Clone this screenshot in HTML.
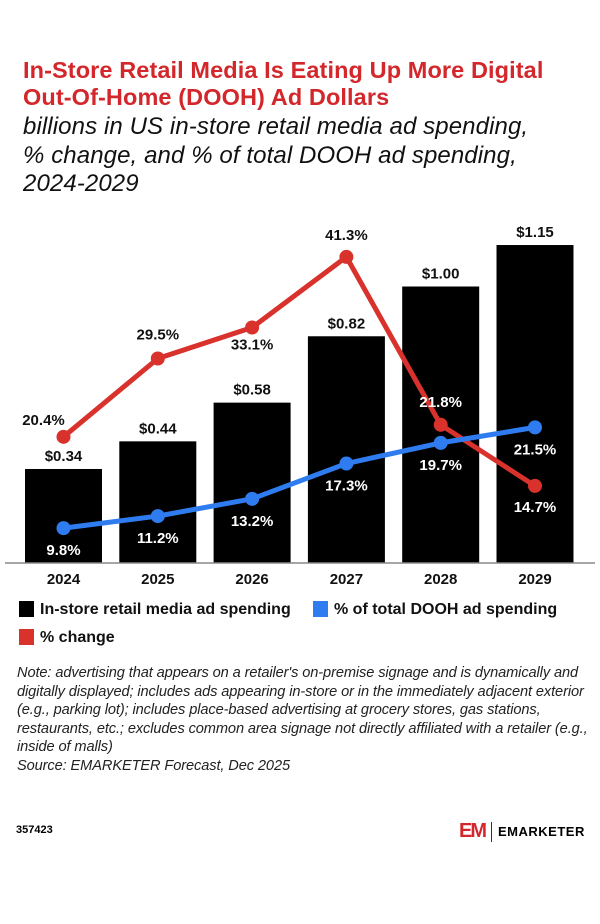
<!DOCTYPE html>
<html><head><meta charset="utf-8"><style>
body{margin:0;width:600px;height:924px;background:#fff;font-family:"Liberation Sans",sans-serif;position:relative;overflow:hidden}
.t{position:absolute;left:23px;top:57px;color:#d3272b;font-weight:bold;font-size:23.5px;line-height:27px;letter-spacing:0.1px;white-space:nowrap}
.s{position:absolute;left:23px;top:113px;font-style:italic;font-size:24px;line-height:28.5px;color:#111;letter-spacing:0.1px;white-space:nowrap}
.n{position:absolute;left:17px;top:664px;font-style:italic;font-size:14.6px;line-height:18.6px;color:#222;white-space:nowrap;letter-spacing:-0.1px}
</style></head><body>
<div class="t">In-Store Retail Media Is Eating Up More Digital<br>Out-Of-Home (DOOH) Ad Dollars</div>
<div class="s">billions in US in-store retail media ad spending,<br>% change, and % of total DOOH ad spending,<br>2024-2029</div>
<svg id="c" width="600" height="650" style="position:absolute;left:0;top:0"></svg>
<div class="n">Note: advertising that appears on a retailer's on-premise signage and is dynamically and<br>digitally displayed; includes ads appearing in-store or in the immediately adjacent exterior<br>(e.g., parking lot); includes place-based advertising at grocery stores, gas stations,<br>restaurants, etc.; excludes common area signage not directly affiliated with a retailer (e.g.,<br>inside of malls)<br>Source: EMARKETER Forecast, Dec 2025</div>
<div style="position:absolute;left:16px;top:824px;font-size:11px;font-weight:bold">357423</div>
<div style="position:absolute;left:459px;top:820px;display:flex;align-items:center">
<span style="color:#d3272b;font-weight:bold;font-size:20px;letter-spacing:-2px">EM</span>
<span style="width:1px;height:20px;background:#333;margin:0 6px"></span>
<span style="font-weight:bold;font-size:13px;letter-spacing:0.5px">EMARKETER</span></div>
<script>
const years=["2024","2025","2026","2027","2028","2029"];
const spend=[0.34,0.44,0.58,0.82,1.00,1.15];
const spendLabels=["$0.34","$0.44","$0.58","$0.82","$1.00","$1.15"];
const change=[20.4,29.5,33.1,41.3,21.8,14.7];
const share=[9.8,11.2,13.2,17.3,19.7,21.5];
const NS="http://www.w3.org/2000/svg",svg=document.getElementById('c');
const base=563,bw=77;
const xc=i=>63.5+i*94.3;
const yb=v=>base-v*276.5;
const yp=v=>612.5-v*8.61;
function el(t,a,p){const e=document.createElementNS(NS,t);for(const k in a)e.setAttribute(k,a[k]);(p||svg).appendChild(e);return e;}
function tx(x,y,s,fill,sz){const e=el('text',{x:x,y:y,'text-anchor':'middle','font-size':sz||15,'font-weight':'bold',fill:fill||'#111','font-family':'Liberation Sans, sans-serif'});e.textContent=s;return e;}
spend.forEach((v,i)=>{const r=el('rect',{x:xc(i)-bw/2,y:yb(v),width:bw,height:base-yb(v),fill:'#000'});


const t=tx(xc(i),yb(v)-8,spendLabels[i]);


const y=tx(xc(i),base+21,years[i]);

});
el('line',{x1:5,x2:595,y1:base,y2:base,stroke:'#888','stroke-width':1.5});
function line(vals,col,name){const pts=vals.map((v,i)=>xc(i)+','+yp(v)).join(' ');
const p=el('polyline',{points:pts,fill:'none',stroke:col,'stroke-width':5,'stroke-linejoin':'round'});


vals.forEach((v,i)=>{const c=el('circle',{cx:xc(i),cy:yp(v),r:7,fill:col});

});
return p;}
line(change,'#d9322d','pct-change');
line(share,'#2f7cf0','dooh-share');
const chOff=[-18,-19,22,-17,-18,26];
const chCol=['#111','#111','#111','#111','#fff','#fff'];
change.forEach((v,i)=>{const t=tx(xc(i),yp(v)+chOff[i],v.toFixed(1)+'%',chCol[i]);
if(i==0){t.setAttribute('y',yp(v)-12);t.setAttribute('x',xc(i)-20);}

});
share.forEach((v,i)=>{const t=tx(xc(i),yp(v)+27,v.toFixed(1)+'%','#fff');

});
function leg(x,y,col,s,name){const r=el('rect',{x:x,y:y-13,width:15,height:16,fill:col});


const t=el('text',{x:x+21,y:y,'font-size':16,'font-weight':'bold',fill:'#111','font-family':'Liberation Sans, sans-serif'});t.textContent=s;

}
leg(19,614,'#000','In-store retail media ad spending','spend');
leg(313,614,'#2f7cf0','% of total DOOH ad spending','share');
leg(19,642,'#d9322d','% change','change');
</script>
</body></html>
